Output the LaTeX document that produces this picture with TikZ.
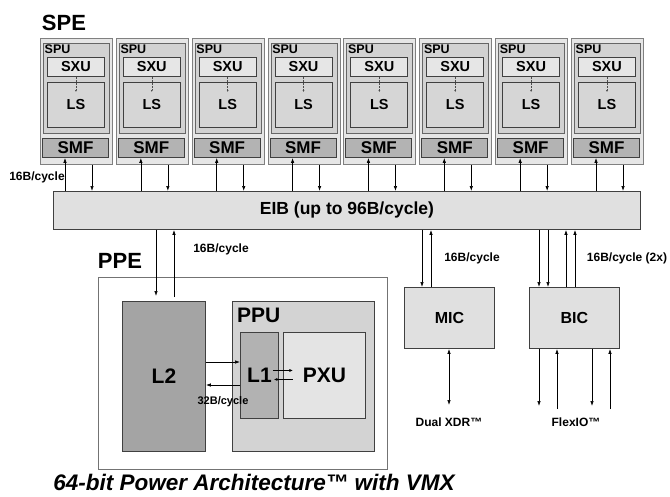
\documentclass[tikz,border=0pt]{standalone}
\usepackage{fontspec}
\setmainfont{Liberation Sans}
\usetikzlibrary{arrows.meta,calc}
\definecolor{speouter}{HTML}{E6E6E6}
\definecolor{spufill}{HTML}{D2D2D2}
\definecolor{sxufill}{HTML}{E6E6E6}
\definecolor{lsfill}{HTML}{D6D6D6}
\definecolor{smffill}{HTML}{B3B3B3}
\definecolor{eibfill}{HTML}{E0E0E0}
\definecolor{l2fill}{HTML}{A4A4A4}
\definecolor{ppufill}{HTML}{D3D3D3}
\definecolor{l1fill}{HTML}{B2B2B2}
\definecolor{pxufill}{HTML}{E4E4E4}
\begin{document}
\begin{tikzpicture}[x=1pt,y=-1pt,
  box/.style={draw=black!75, line width=0.9pt, inner sep=0pt, anchor=north west, font=\bfseries},
  arr/.style={-{Latex[length=5pt,width=3.5pt]}, line width=0.7pt},
  sarr/.style={-{Latex[length=3.5pt,width=3pt]}, line width=0.6pt},
  lab/.style={font=\bfseries\fontsize{12}{12}\selectfont, inner sep=0pt},
  big/.style={font=\bfseries\fontsize{22}{22}\selectfont, inner sep=0pt}]
\useasboundingbox (0,0) rectangle (670,496);
\node[big] (spelab) at (64,23) {SPE};
\node[box, fill=eibfill, minimum width=587pt, minimum height=38pt, font=\bfseries\fontsize{17.5}{17.5}\selectfont] (eib) at (53,191) {EIB (up to 96B/cycle)};
\foreach \i in {0,...,7}{
  \pgfmathsetmacro{\xo}{40+75.86*\i}
  \node[box, draw=black!50, fill=speouter, minimum width=72pt, minimum height=126pt] (spe\i) at (\xo,38) {};
  \node[box, draw=black!60, fill=spufill, minimum width=66pt, minimum height=90pt] (spu\i) at (\xo+3,43) {};
  \node[font=\bfseries\fontsize{12.5}{12.5}\selectfont, inner sep=0pt, anchor=west] (spul\i) at (\xo+4.5,49.5) {SPU};
  \node[box, fill=sxufill, minimum width=57pt, minimum height=19pt, font=\bfseries\fontsize{14.5}{14.5}\selectfont] (sxu\i) at (\xo+7,57) {SXU};
  \node[box, fill=lsfill, minimum width=57pt, minimum height=45pt, font=\bfseries\fontsize{14.5}{14.5}\selectfont] (ls\i) at (\xo+7,82) {LS};
  \node[box, fill=smffill, minimum width=66pt, minimum height=19pt, font=\bfseries\fontsize{17}{17}\selectfont] (smf\i) at (\xo+2,138) {SMF};
  \coordinate (dt\i) at ($(ls\i.north)+(0,10)$);
  \draw[densely dotted, black!70, -{Latex[length=2pt,width=2pt]}, line width=0.5pt] (sxu\i.south) -- (dt\i);
  \coordinate (ua\i) at (\xo+25,0);
  \coordinate (da\i) at (\xo+52,0);
  \draw[arr] (ua\i |- eib.north) -- (ua\i |- smf\i.south);
  \draw[arr] (da\i |- spe\i.south) -- (da\i |- eib.north);
}
\node[lab] (lspe) at (37,177) {16B/cycle};
% PPE
\node[box, draw=black!55, fill=white, minimum width=289pt, minimum height=192pt] (ppe) at (98,277) {};
\node[big] (ppelab) at (120,261) {PPE};
\node[box, fill=l2fill, minimum width=83pt, minimum height=150pt, font=\bfseries\fontsize{21}{21}\selectfont] (l2) at (122,301) {L2};
\node[box, fill=ppufill, minimum width=142pt, minimum height=150pt] (ppu) at (232,301) {};
\node[font=\bfseries\fontsize{21}{21}\selectfont, inner sep=0pt, anchor=west] (ppulab) at (237,315) {PPU};
\node[box, fill=l1fill, minimum width=38pt, minimum height=86pt, font=\bfseries\fontsize{21}{21}\selectfont] (l1) at (240,332) {L1};
\node[box, fill=pxufill, minimum width=82pt, minimum height=86pt, font=\bfseries\fontsize{21}{21}\selectfont] (pxu) at (283,332) {PXU};
\coordinate (a1) at (0,362);
\coordinate (a2) at (0,385);
\draw[arr] (a1 -| l2.east) -- (a1 -| l1.west);
\draw[arr] (a2 -| l1.west) -- (a2 -| l2.east);
\node[font=\bfseries\fontsize{11}{11}\selectfont, inner sep=0pt] (l32) at (223,402) {32B/cycle};
\coordinate (b1) at ($(l1.east)+(-6,-5)$);
\coordinate (b2) at ($(l1.east)+(14,-5)$);
\coordinate (b3) at ($(l1.east)+(14,4)$);
\coordinate (b4) at ($(l1.east)+(-5,4)$);
\draw[sarr] (b1) -- (b2);
\draw[sarr] (b3) -- (b4);
\coordinate (p1) at (156,296);
\coordinate (p2) at (174,297);
\draw[arr] (p1 |- eib.south) -- (p1);
\draw[arr] (p2) -- (p2 |- eib.south);
\node[lab] (lppe) at (221,249) {16B/cycle};
% MIC / BIC
\node[box, fill=eibfill, minimum width=90pt, minimum height=61pt, font=\bfseries\fontsize{16}{16}\selectfont] (mic) at (404,287) {MIC};
\node[box, fill=eibfill, minimum width=90pt, minimum height=61pt, font=\bfseries\fontsize{16}{16}\selectfont] (bic) at (529,287) {BIC};
\coordinate (m1) at (422,0);
\coordinate (m2) at (431,0);
\draw[arr] (m1 |- eib.south) -- (m1 |- mic.north);
\draw[arr] (m2 |- mic.north) -- (m2 |- eib.south);
\node[lab] (lmic) at (472,258) {16B/cycle};
\coordinate (c1) at (539,0);
\coordinate (c2) at (548,0);
\coordinate (c3) at (566,0);
\coordinate (c4) at (575,0);
\draw[arr] (c1 |- eib.south) -- (c1 |- bic.north);
\draw[arr] (c2 |- eib.south) -- (c2 |- bic.north);
\draw[arr] (c3 |- bic.north) -- (c3 |- eib.south);
\draw[arr] (c4 |- bic.north) -- (c4 |- eib.south);
\node[lab] (lbic) at (627,258) {16B/cycle (2x)};
\coordinate (x1) at (449,405);
\draw[{Latex[length=5pt,width=3.5pt]}-{Latex[length=5pt,width=3.5pt]}, line width=0.7pt] (x1 |- mic.south) -- (x1);
\node[lab] (xdr) at (449,422) {Dual XDR™};
\coordinate (f1) at (539,406);
\coordinate (f2) at (557,409);
\coordinate (f3) at (592,406);
\coordinate (f4) at (610,409);
\draw[arr] (f1 |- bic.south) -- (f1);
\draw[arr] (f2) -- (f2 |- bic.south);
\draw[arr] (f3 |- bic.south) -- (f3);
\draw[arr] (f4) -- (f4 |- bic.south);
\node[lab] (flex) at (576,422) {FlexIO™};
\node[font=\bfseries\itshape\fontsize{22.5}{22.5}\selectfont, inner sep=0pt] (title) at (254,482) {64-bit Power Architecture™ with VMX};
\end{tikzpicture}
\end{document}
